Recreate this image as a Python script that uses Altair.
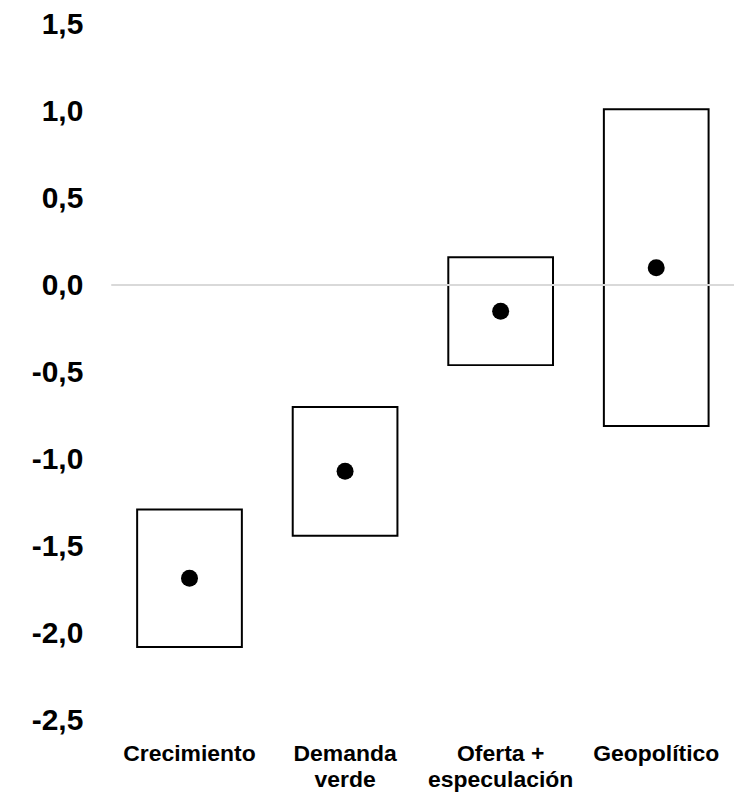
import altair as alt
import pandas as pd

categories = ["Crecimiento", "Demanda\nverde", "Oferta +\nespeculación", "Geopolítico"]
low = [-2.08, -1.44, -0.46, -0.81]
high = [-1.29, -0.70, 0.16, 1.01]
point = [-1.685, -1.07, -0.15, 0.10]
y_ticks = [-2.5, -2.0, -1.5, -1.0, -0.5, 0.0, 0.5, 1.0, 1.5]

df = pd.DataFrame({"cat": categories, "low": low, "high": high, "point": point})

FONT = "Liberation Sans"

x = alt.X(
    "cat:N",
    sort=categories,
    scale=alt.Scale(paddingInner=0, paddingOuter=0),
    axis=alt.Axis(
        title=None, labelAngle=0, domain=False, ticks=False,
        labelFont=FONT, labelFontSize=23, labelFontWeight="bold", labelColor="black",
        labelPadding=22, labelLineHeight=27, labelExpr="split(datum.label, '\\n')",
        labelBaseline="top",
    ),
)

yscale = alt.Scale(domain=[-2.5, 1.5], nice=False, zero=False)
yaxis = alt.Axis(
    title=None, values=y_ticks, domain=False, ticks=False, grid=False,
    labelFont=FONT, labelFontSize=30, labelFontWeight="bold", labelColor="black",
    labelPadding=29,
    labelExpr="replace(replace(format(datum.value, '.1f'), '.', ','), '\u2212', '-')",
)

boxes = alt.Chart(df).mark_bar(
    size=105, fill="white", stroke="black", strokeWidth=2
).encode(
    x=x,
    y=alt.Y("low:Q", scale=yscale, axis=yaxis),
    y2="high:Q",
)

zero = alt.Chart(df).mark_rule(color="#d9d9d9", strokeWidth=2).encode(
    y=alt.datum(0)
)

dots = alt.Chart(df).mark_circle(size=290, color="black", opacity=1).encode(
    x=x,
    y=alt.Y("point:Q", scale=yscale),
)

chart = alt.layer(boxes, zero, dots).properties(
    width=624, height=698,
    autosize=alt.AutoSizeParams(type="none"),
    padding={"left": 104, "top": 15, "right": 6, "bottom": 80},
).configure_view(stroke=None)

chart.save("out.html", embed_options={"renderer": "svg", "actions": False})
